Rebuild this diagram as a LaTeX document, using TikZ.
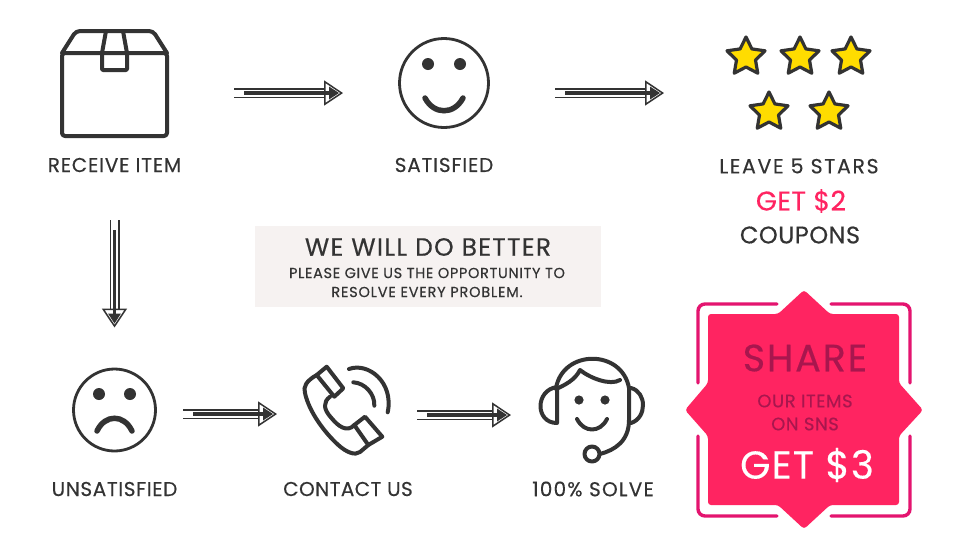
\documentclass[tikz,border=0pt]{standalone}
\usepackage{fontspec}
\setmainfont{Poppins}[FakeBold=0.35]
\usetikzlibrary{arrows.meta,shapes.geometric}
\definecolor{ink}{HTML}{333333}
\definecolor{starfill}{HTML}{FFDC00}
\definecolor{hotpink}{HTML}{FF2461}
\definecolor{framepink}{HTML}{E4146F}
\definecolor{sharedark}{HTML}{A8164E}
\definecolor{notebg}{HTML}{F6F2F1}
\newcommand{\pxfont}[2][4]{\fontsize{#2}{#2}\selectfont\addfontfeature{LetterSpace=#1}}

\begin{document}
\begin{tikzpicture}[
  x=1pt, y=-1pt,
  iconspot/.style={rectangle, inner sep=0pt, outer sep=0pt},
  steplabel/.style={font=\pxfont{20}, text=ink, inner sep=0pt, anchor=center},
  iconline/.style={draw=ink, line width=4pt, line cap=round, line join=round},
  faceline/.style={draw=ink, line width=2.8pt},
  mouth/.style={draw=ink, line width=5.5pt, line cap=round},
  staricon/.style={star, star points=5, star point ratio=2, minimum size=40pt, inner sep=0pt, fill=starfill, draw=ink, line width=3.2pt, line join=round},
  flowarrow/.style 2 args={draw=ink, line width=3.4pt,
    preaction={draw=ink, line width=1.5pt, double=white, double distance=7pt,
      shorten <=#1pt, shorten >=#2pt,
      -{Triangle[length=19pt, width=25pt, fill=white, line width=1.5pt]}},
    shorten <=#1pt+10pt, shorten >=#2pt+4pt,
    -{Triangle[length=10pt, width=13pt, line width=0pt]}},
  bracket/.style={draw=framepink, line width=3.4pt, line cap=round, rounded corners=7pt}
]
\useasboundingbox (0,0) rectangle (960,539);
\fill[white] (0,0) rectangle (960,539);

\node[iconspot, minimum width=105pt, minimum height=106pt] (receive) at (114.5,83) {};
\node[iconspot, minimum width=92pt, minimum height=92pt] (satisfied) at (444,83) {};
\node[iconspot, minimum width=146pt, minimum height=94pt] (stars) at (799,83) {};
\node[iconspot, minimum width=85pt, minimum height=85pt] (unsatisfied) at (114.5,410) {};
\node[iconspot, minimum width=87pt, minimum height=88pt] (contact) at (348,410) {};
\node[iconspot, minimum width=108pt, minimum height=110pt] (solve) at (592,408) {};

\draw[iconline, rounded corners=3pt] (62,53) -- (167,53) -- (167,136) -- (62,136) -- cycle;
\draw[iconline, rounded corners=4pt] (62,53) -- (76,31) -- (153,31) -- (167,53);
\draw[iconline, rounded corners=1pt] (106,31) -- (102,53) -- (102,70) -- (127,70) -- (127,53) -- (123,31);

\draw[faceline] (satisfied) circle (44.5);
\fill[ink] (428,64) circle (6);
\fill[ink] (460,64) circle (6);
\draw[mouth] (425,98) .. controls (434,115) and (454,115) .. (463,98);

\node[staricon] (star1) at (746,57) {};
\node[staricon] (star2) at (800,57) {};
\node[staricon] (star3) at (851,57) {};
\node[staricon] (star4) at (769,112) {};
\node[staricon] (star5) at (829,112) {};

\draw[faceline] (unsatisfied) circle (41);
\fill[ink] (99,394) circle (6);
\fill[ink] (130,394) circle (6);
\draw[mouth] (97,431) .. controls (105,414) and (124,414) .. (132,431);

\draw[iconline] (326.7,366.7) -- (343.3,388.3) -- (334.3,396.7) -- (316.7,375) -- cycle;
\draw[iconline] (365,416.7) -- (382.3,436.7) -- (368.3,445) -- (354.3,425) -- cycle;
\draw[iconline] (316.7,375) .. controls (306,381) and (303,387) .. (305,393) .. controls (309,412) and (325,433) .. (338.3,445) .. controls (346,452) and (355,456) .. (360,452) -- (368.3,445);
\draw[iconline] (330,396.7) .. controls (323,402) and (323,409) .. (331.7,418.3) .. controls (338,426) and (347,433) .. (354.3,425);
\draw[iconline] (353.3,382.3) .. controls (365,383) and (375,394) .. (374.3,405.7);
\draw[iconline] (349,369) .. controls (368,362) and (394,382) .. (387.7,412.3);

\draw[iconline] (556,388) .. controls (563,349) and (622,349) .. (629,388) -- (629,420) .. controls (629,441) and (615,450) .. (600,454);
\draw[iconline] (556,389) .. controls (565,385) and (575,380) .. (580,370) .. controls (590,378) and (610,386) .. (620,380);
\draw[iconline] (557,387) .. controls (535,390) and (535,423) .. (557,423) -- cycle;
\draw[iconline] (631,388) .. controls (647,392) and (647,418) .. (631,423);
\fill[ink] (579,400) circle (4.6);
\fill[ink] (605,400) circle (4.6);
\draw[iconline] (577,419) .. controls (584,433) and (600,433) .. (607,419);
\draw[iconline] (592,454) circle (7.5);

\node[steplabel] (receivetxt) at (114.5,165) {RECEIVE ITEM};
\node[steplabel] (satisfiedtxt) at (444,165) {SATISFIED};
\node[steplabel, font={\pxfont[8]{20.5}}] (leavetxt) at (799,166) {LEAVE 5 STARS};
\node[steplabel, font={\pxfont[1]{27}}, text=hotpink] (gettwo) at (801,201) {GET \$2};
\node[steplabel, font={\pxfont[2]{24}}] (coupons) at (800,235) {COUPONS};
\node[steplabel, font={\pxfont[3]{20}}] (unsatisfiedtxt) at (114.5,489) {UNSATISFIED};
\node[steplabel, font={\pxfont[2]{20}}] (contacttxt) at (348,489) {CONTACT US};
\node[steplabel, font={\pxfont[6]{20}}] (solvetxt) at (593,489) {100\% SOLVE};

\fill[notebg] (255,226) rectangle (601,307);
\node[steplabel, font={\pxfont[5]{25}}] (notehead) at (428,247) {WE WILL DO BETTER};
\node[steplabel, font={\pxfont[4.5]{14.5}}] (noteone) at (427,273) {PLEASE GIVE US THE OPPORTUNITY TO};
\node[steplabel, font={\pxfont[5.5]{14.5}}] (notetwo) at (427,292) {RESOLVE EVERY PROBLEM.};

\draw[flowarrow={67}{55}] ([yshift=-10pt]receive.east) -- ([yshift=-10pt]satisfied.west);
\draw[flowarrow={65}{62}] ([yshift=-10pt]satisfied.east) -- ([yshift=-10pt]stars.west);
\draw[flowarrow={84}{40}] (receive.south) -- (unsatisfied.north);
\draw[flowarrow={26}{27.5}] ([yshift=-4pt]unsatisfied.east) -- ([yshift=-4pt]contact.west);
\draw[flowarrow={25.5}{27}] ([yshift=-5pt]contact.east) -- ([yshift=-7pt]solve.west);

\fill[hotpink, rounded corners=3pt] (804,290) -- (830,314) -- (899,314) -- (899,383) -- (923,410) -- (899,436) -- (899,505) -- (830,505) -- (804,529) -- (778,505) -- (708,505) -- (708,436) -- (685,410) -- (708,383) -- (708,314) -- (778,314) -- cycle;
\draw[bracket] (777,304) -- (698,304) -- (698,383);
\draw[bracket] (831,304) -- (910,304) -- (910,383);
\draw[bracket] (777,516) -- (698,516) -- (698,436);
\draw[bracket] (831,516) -- (910,516) -- (910,436);

\node[steplabel, font={\pxfont[5]{38}}, text=sharedark] (share) at (805,358) {SHARE};
\node[steplabel, font={\pxfont[3]{18}}, text=sharedark] (ouritems) at (805,401) {OUR ITEMS};
\node[steplabel, font={\pxfont[3]{18}}, text=sharedark] (onsns) at (805,424) {ON SNS};
\node[steplabel, font={\pxfont[3]{39}}, text=white] (getthree) at (807,465) {GET \$3};
\end{tikzpicture}
\end{document}
